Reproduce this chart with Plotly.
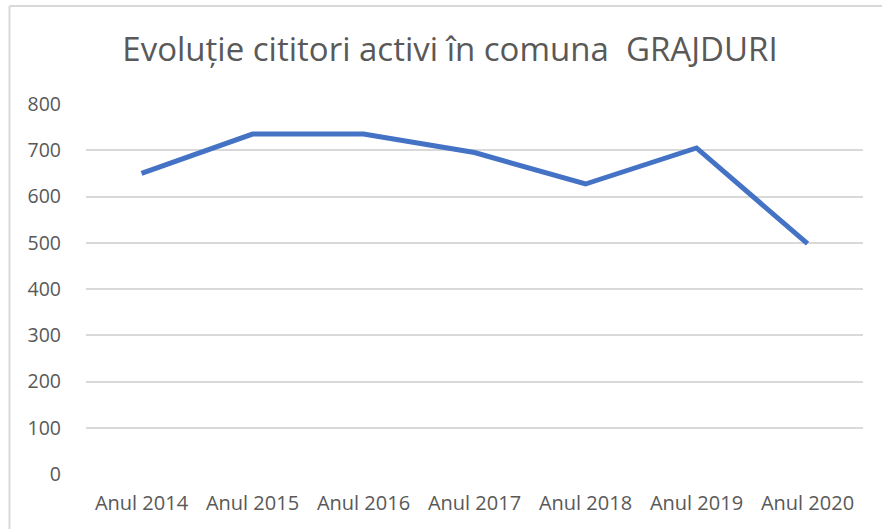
import plotly.graph_objects as go

categories = ["Anul 2014", "Anul 2015", "Anul 2016", "Anul 2017", "Anul 2018", "Anul 2019", "Anul 2020"]
readers = [650, 735, 735, 695, 627, 705, 498]
y_ticks = [0, 100, 200, 300, 400, 500, 600, 700, 800]

W, H = 882, 529
L, R, T, B = 86, 19, 104, 55
pw, ph = W - L - R, H - T - B

def px_x(x):
    return (x - L) / pw

def px_y(y):
    return (H - B - y) / ph

fig = go.Figure()
fig.add_trace(go.Scatter(
    x=categories, y=readers, mode="lines",
    line=dict(color="#4472C4", width=5, shape="linear"),
    hoverinfo="x+y", showlegend=False,
))

border = "#D9D9D9"
fig.update_layout(
    width=W, height=H,
    margin=dict(l=L, r=R, t=T, b=B),
    paper_bgcolor="white", plot_bgcolor="white",
    title=dict(
        text="Evoluție cititori activi în comuna  GRAJDURI",
        x=450 / W, xanchor="center", y=1 - 49 / H, yanchor="middle",
        font=dict(family="Open Sans", size=33, color="#595959"),
    ),
    xaxis=dict(
        type="category", showgrid=False, showline=False, zeroline=False,
        ticks="", tickfont=dict(family="Open Sans", size=20, color="#595959"),
        range=[-0.5, len(categories) - 0.5], fixedrange=True,
        ticklabelstandoff=15,
    ),
    yaxis=dict(
        range=[0, 800], tickvals=y_ticks, showgrid=True, gridcolor="#D9D9D9",
        gridwidth=1.5, zeroline=False, showline=False, ticks="",
        tickfont=dict(family="Open Sans", size=19.5, color="#595959"),
        ticklabelstandoff=24, fixedrange=True,
    ),
    shapes=[
        dict(type="line", xref="paper", yref="paper",
             x0=px_x(9.5), x1=px_x(W + 10), y0=px_y(6), y1=px_y(6),
             line=dict(color=border, width=2), layer="below"),
        dict(type="line", xref="paper", yref="paper",
             x0=px_x(9.5), x1=px_x(9.5), y0=px_y(6), y1=px_y(H + 10),
             line=dict(color=border, width=2), layer="below"),
    ],
)

fig.write_html(
    "out.html",
    config={"displayModeBar": False},
    post_script="document.body.style.margin='0';document.body.style.overflow='hidden';",
)
